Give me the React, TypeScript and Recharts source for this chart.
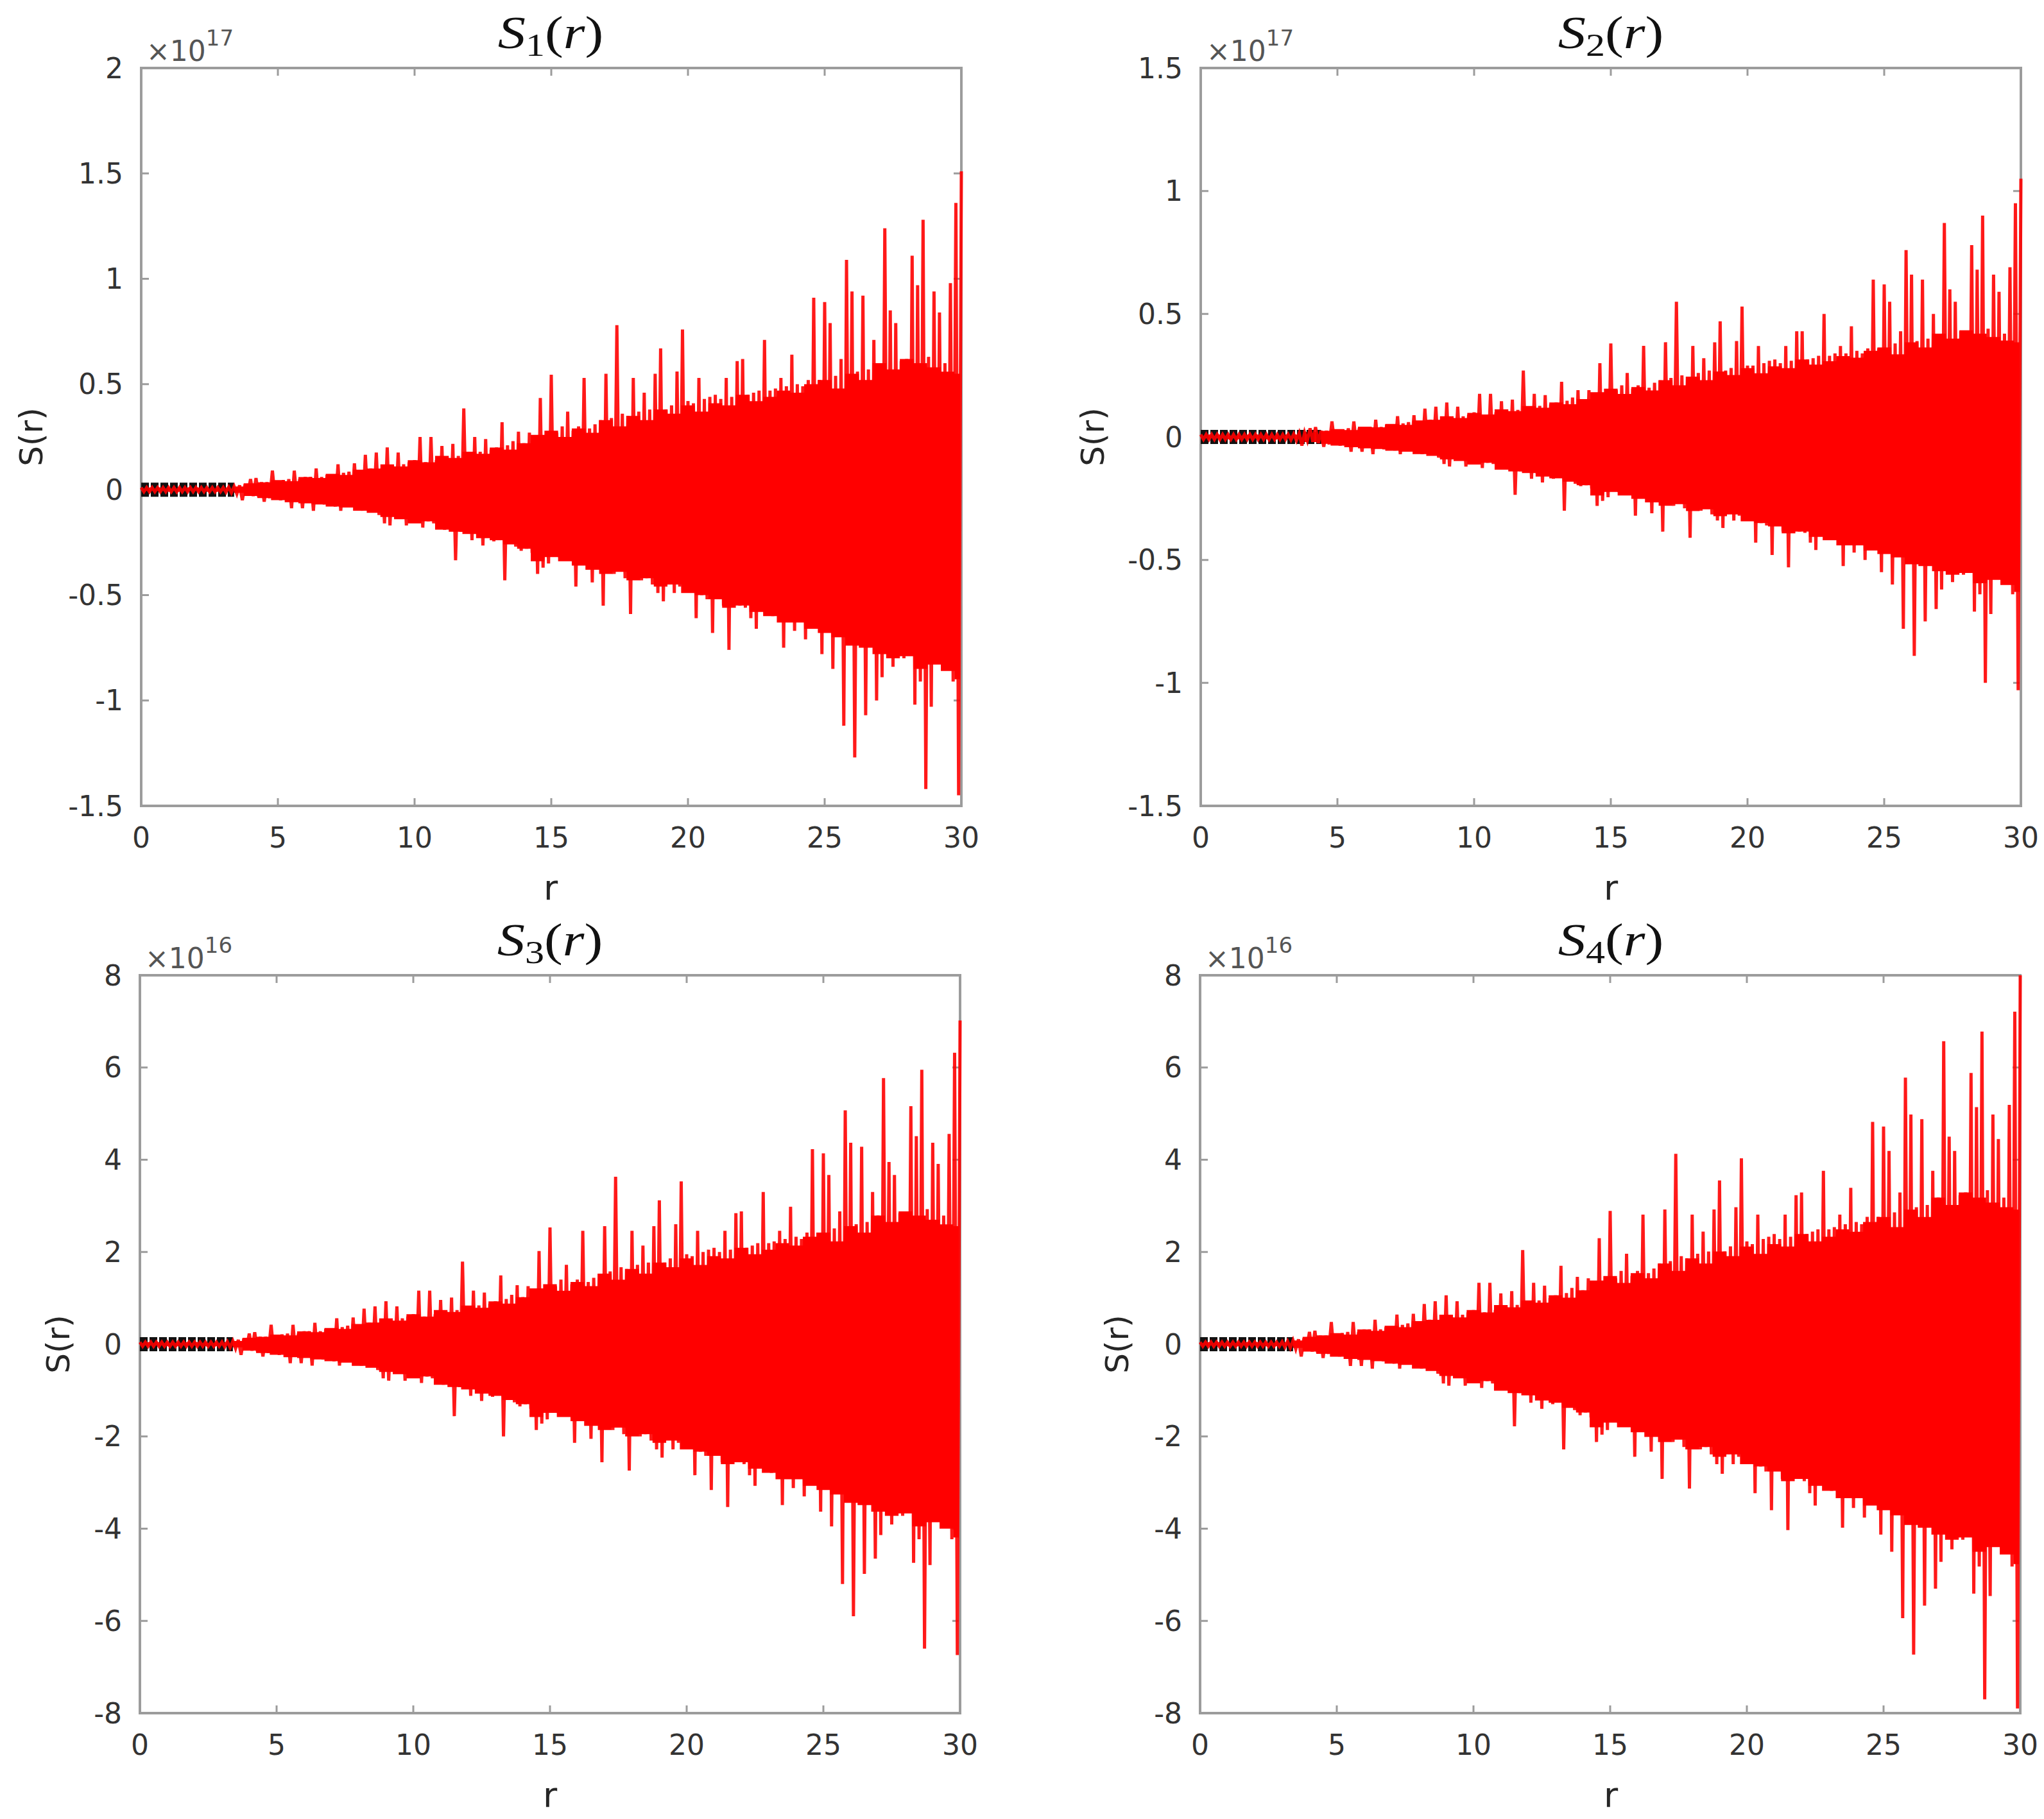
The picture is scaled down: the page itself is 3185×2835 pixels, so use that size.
import React from 'react';
import { ComposedChart, Line, Area, XAxis, YAxis, CartesianGrid, ReferenceArea } from 'recharts';

// r grid of the sampled signal (step 0.1)
const rGrid = [
  0,0.1,0.2,0.3,0.4,0.5,0.6,0.7,0.8,0.9,
  1,1.1,1.2,1.3,1.4,1.5,1.6,1.7,1.8,1.9,
  2,2.1,2.2,2.3,2.4,2.5,2.6,2.7,2.8,2.9,
  3,3.1,3.2,3.3,3.4,3.5,3.6,3.7,3.8,3.9,
  4,4.1,4.2,4.3,4.4,4.5,4.6,4.7,4.8,4.9,
  5,5.1,5.2,5.3,5.4,5.5,5.6,5.7,5.8,5.9,
  6,6.1,6.2,6.3,6.4,6.5,6.6,6.7,6.8,6.9,
  7,7.1,7.2,7.3,7.4,7.5,7.6,7.7,7.8,7.9,
  8,8.1,8.2,8.3,8.4,8.5,8.6,8.7,8.8,8.9,
  9,9.1,9.2,9.3,9.4,9.5,9.6,9.7,9.8,9.9,
  10,10.1,10.2,10.3,10.4,10.5,10.6,10.7,10.8,10.9,
  11,11.1,11.2,11.3,11.4,11.5,11.6,11.7,11.8,11.9,
  12,12.1,12.2,12.3,12.4,12.5,12.6,12.7,12.8,12.9,
  13,13.1,13.2,13.3,13.4,13.5,13.6,13.7,13.8,13.9,
  14,14.1,14.2,14.3,14.4,14.5,14.6,14.7,14.8,14.9,
  15,15.1,15.2,15.3,15.4,15.5,15.6,15.7,15.8,15.9,
  16,16.1,16.2,16.3,16.4,16.5,16.6,16.7,16.8,16.9,
  17,17.1,17.2,17.3,17.4,17.5,17.6,17.7,17.8,17.9,
  18,18.1,18.2,18.3,18.4,18.5,18.6,18.7,18.8,18.9,
  19,19.1,19.2,19.3,19.4,19.5,19.6,19.7,19.8,19.9,
  20,20.1,20.2,20.3,20.4,20.5,20.6,20.7,20.8,20.9,
  21,21.1,21.2,21.3,21.4,21.5,21.6,21.7,21.8,21.9,
  22,22.1,22.2,22.3,22.4,22.5,22.6,22.7,22.8,22.9,
  23,23.1,23.2,23.3,23.4,23.5,23.6,23.7,23.8,23.9,
  24,24.1,24.2,24.3,24.4,24.5,24.6,24.7,24.8,24.9,
  25,25.1,25.2,25.3,25.4,25.5,25.6,25.7,25.8,25.9,
  26,26.1,26.2,26.3,26.4,26.5,26.6,26.7,26.8,26.9,
  27,27.1,27.2,27.3,27.4,27.5,27.6,27.7,27.8,27.9,
  28,28.1,28.2,28.3,28.4,28.5,28.6,28.7,28.8,28.9,
  29,29.1,29.2,29.3,29.4,29.5,29.6,29.7,29.8,29.9,
  30,
];

// S1(r), units of 1e17
const s1 = [
  0.01,-0.01,0.01,-0.01,0.01,-0.01,0.01,-0.01,0.01,-0.01,
  0.01,-0.01,0.01,-0.01,0.01,-0.01,0.01,-0.01,0.01,-0.01,
  0.01,-0.01,0.01,-0.01,0.01,-0.01,0.01,-0.01,0.01,-0.01,
  0.01,-0.012,0.012,-0.015,0.015,-0.02,0.02,-0.05,0.025,-0.02,
  0.05,-0.03,0.055,-0.035,0.035,-0.057,0.035,-0.04,0.09,-0.045,
  0.04,-0.05,0.045,-0.045,0.05,-0.088,0.09,-0.05,0.05,-0.088,
  0.06,-0.06,0.06,-0.1,0.1,-0.065,0.06,-0.07,0.07,-0.06,
  0.065,-0.08,0.12,-0.1,0.08,-0.075,0.085,-0.08,0.125,-0.07,
  0.09,-0.1,0.165,-0.09,0.1,-0.09,0.176,-0.12,0.1,-0.16,
  0.2,-0.17,0.11,-0.12,0.176,-0.13,0.12,-0.17,0.13,-0.14,
  0.14,-0.15,0.25,-0.18,0.13,-0.15,0.25,-0.16,0.14,-0.17,
  0.207,-0.19,0.15,-0.18,0.217,-0.335,0.16,-0.2,0.385,-0.19,
  0.17,-0.24,0.25,-0.21,0.18,-0.265,0.24,-0.22,0.19,-0.245,
  0.2,-0.23,0.32,-0.43,0.21,-0.25,0.23,-0.27,0.275,-0.29,
  0.22,-0.28,0.27,-0.3,0.23,-0.4,0.435,-0.37,0.25,-0.35,
  0.545,-0.3,0.27,-0.32,0.3,-0.33,0.37,-0.3,0.28,-0.46,
  0.3,-0.34,0.53,-0.33,0.29,-0.44,0.31,-0.35,0.33,-0.55,
  0.55,-0.38,0.34,-0.4,0.78,-0.37,0.36,-0.42,0.35,-0.59,
  0.53,-0.41,0.37,-0.43,0.46,-0.42,0.38,-0.45,0.55,-0.49,
  0.67,-0.53,0.38,-0.44,0.4,-0.49,0.56,-0.46,0.76,-0.47,
  0.42,-0.48,0.41,-0.61,0.53,-0.5,0.43,-0.52,0.44,-0.68,
  0.45,-0.51,0.43,-0.55,0.53,-0.76,0.44,-0.53,0.61,-0.55,
  0.62,-0.56,0.45,-0.61,0.46,-0.66,0.47,-0.46,0.71,-0.58,
  0.47,-0.6,0.48,-0.59,0.53,-0.75,0.49,-0.6,0.64,-0.67,
  0.5,-0.62,0.49,-0.71,0.52,-0.63,0.91,-0.65,0.52,-0.78,
  0.89,-0.66,0.79,-0.85,0.54,-0.67,0.62,-1.12,1.09,-0.7,
  0.94,-1.27,0.56,-0.7,0.92,-1.07,0.57,-0.72,0.71,-1.0,
  0.6,-0.89,1.24,-0.74,0.85,-0.84,0.79,-0.75,0.61,-0.8,
  0.62,-0.76,1.11,-1.02,0.97,-0.91,1.28,-1.42,0.63,-1.03,
  0.94,-0.8,0.84,-0.76,0.6,-0.85,0.98,-0.91,1.36,-1.45,
  1.51,
];

// S2(r), units of 1e17
const s2 = [
  0.01,-0.01,0.01,-0.01,0.01,-0.01,0.01,-0.01,0.01,-0.01,
  0.01,-0.01,0.01,-0.01,0.01,-0.01,0.01,-0.01,0.01,-0.01,
  0.01,-0.01,0.01,-0.01,0.01,-0.01,0.01,-0.01,0.01,-0.01,
  0.01,-0.01,0.01,-0.012,0.012,-0.015,0.015,-0.035,0.018,-0.015,
  0.035,-0.02,0.04,-0.025,0.025,-0.04,0.025,-0.03,0.063,-0.03,
  0.03,-0.035,0.03,-0.03,0.035,-0.06,0.063,-0.035,0.035,-0.06,
  0.04,-0.04,0.04,-0.07,0.07,-0.045,0.04,-0.05,0.05,-0.04,
  0.045,-0.055,0.084,-0.07,0.055,-0.052,0.06,-0.055,0.088,-0.05,
  0.063,-0.07,0.115,-0.063,0.07,-0.063,0.123,-0.084,0.07,-0.11,
  0.14,-0.12,0.077,-0.084,0.123,-0.09,0.084,-0.12,0.09,-0.1,
  0.1,-0.105,0.175,-0.126,0.09,-0.105,0.175,-0.11,0.1,-0.12,
  0.145,-0.133,0.105,-0.126,0.152,-0.235,0.11,-0.14,0.27,-0.133,
  0.12,-0.17,0.175,-0.147,0.126,-0.185,0.17,-0.154,0.133,-0.17,
  0.14,-0.16,0.224,-0.3,0.147,-0.175,0.16,-0.19,0.19,-0.2,
  0.154,-0.196,0.19,-0.21,0.16,-0.28,0.3,-0.26,0.175,-0.245,
  0.38,-0.21,0.19,-0.224,0.21,-0.23,0.26,-0.21,0.196,-0.32,
  0.21,-0.24,0.37,-0.23,0.2,-0.31,0.22,-0.245,0.23,-0.385,
  0.385,-0.27,0.24,-0.28,0.55,-0.26,0.25,-0.29,0.245,-0.41,
  0.37,-0.29,0.26,-0.3,0.32,-0.29,0.27,-0.315,0.385,-0.34,
  0.47,-0.37,0.27,-0.31,0.28,-0.34,0.39,-0.32,0.53,-0.33,
  0.29,-0.34,0.29,-0.43,0.37,-0.35,0.3,-0.36,0.31,-0.48,
  0.315,-0.36,0.3,-0.385,0.37,-0.53,0.31,-0.37,0.43,-0.385,
  0.43,-0.39,0.315,-0.43,0.32,-0.46,0.33,-0.32,0.5,-0.41,
  0.33,-0.42,0.34,-0.41,0.37,-0.525,0.34,-0.42,0.45,-0.47,
  0.35,-0.43,0.34,-0.5,0.36,-0.44,0.64,-0.455,0.36,-0.55,
  0.62,-0.46,0.55,-0.6,0.38,-0.47,0.43,-0.78,0.76,-0.49,
  0.66,-0.89,0.39,-0.49,0.64,-0.75,0.4,-0.5,0.5,-0.7,
  0.42,-0.62,0.87,-0.52,0.6,-0.59,0.55,-0.525,0.43,-0.56,
  0.43,-0.53,0.78,-0.71,0.68,-0.64,0.9,-1.0,0.44,-0.72,
  0.66,-0.56,0.59,-0.53,0.42,-0.6,0.69,-0.64,0.95,-1.03,
  1.05,
];

// S3(r), units of 1e16
const s3 = [
  0.045,-0.045,0.045,-0.045,0.045,-0.045,0.045,-0.045,0.045,-0.045,
  0.045,-0.045,0.045,-0.045,0.045,-0.045,0.045,-0.045,0.045,-0.045,
  0.045,-0.045,0.045,-0.045,0.045,-0.045,0.045,-0.045,0.045,-0.045,
  0.047,-0.056,0.056,-0.07,0.07,-0.093,0.093,-0.23,0.116,-0.093,
  0.23,-0.14,0.26,-0.16,0.16,-0.265,0.16,-0.19,0.42,-0.21,
  0.19,-0.23,0.21,-0.21,0.23,-0.41,0.42,-0.23,0.23,-0.41,
  0.28,-0.28,0.28,-0.465,0.465,-0.3,0.28,-0.33,0.33,-0.28,
  0.3,-0.37,0.56,-0.465,0.37,-0.35,0.4,-0.37,0.58,-0.33,
  0.42,-0.465,0.77,-0.42,0.465,-0.42,0.82,-0.56,0.465,-0.74,
  0.93,-0.79,0.51,-0.56,0.82,-0.6,0.56,-0.79,0.6,-0.65,
  0.65,-0.7,1.16,-0.84,0.6,-0.7,1.16,-0.74,0.65,-0.79,
  0.96,-0.88,0.7,-0.84,1.01,-1.56,0.74,-0.93,1.79,-0.88,
  0.79,-1.12,1.16,-0.98,0.84,-1.23,1.12,-1.02,0.88,-1.14,
  0.93,-1.07,1.49,-2.0,0.98,-1.16,1.07,-1.26,1.28,-1.35,
  1.02,-1.3,1.26,-1.4,1.07,-1.86,2.02,-1.72,1.16,-1.63,
  2.53,-1.4,1.26,-1.49,1.4,-1.53,1.72,-1.4,1.3,-2.14,
  1.4,-1.58,2.46,-1.53,1.35,-2.05,1.44,-1.63,1.53,-2.56,
  2.56,-1.77,1.58,-1.86,3.63,-1.72,1.67,-1.95,1.63,-2.74,
  2.46,-1.91,1.72,-2.0,2.14,-1.95,1.77,-2.09,2.56,-2.28,
  3.12,-2.46,1.77,-2.05,1.86,-2.28,2.6,-2.14,3.53,-2.19,
  1.95,-2.23,1.91,-2.84,2.46,-2.33,2.0,-2.42,2.05,-3.16,
  2.09,-2.37,2.0,-2.56,2.46,-3.53,2.05,-2.46,2.84,-2.56,
  2.88,-2.6,2.09,-2.84,2.14,-3.07,2.19,-2.14,3.3,-2.7,
  2.19,-2.79,2.23,-2.74,2.46,-3.49,2.28,-2.79,2.98,-3.12,
  2.33,-2.88,2.28,-3.3,2.42,-2.93,4.23,-3.02,2.42,-3.63,
  4.14,-3.07,3.67,-3.95,2.51,-3.12,2.88,-5.2,5.07,-3.26,
  4.37,-5.9,2.6,-3.26,4.28,-4.98,2.65,-3.35,3.3,-4.65,
  2.79,-4.14,5.77,-3.44,3.95,-3.91,3.67,-3.49,2.84,-3.72,
  2.88,-3.53,5.16,-4.74,4.51,-4.23,5.95,-6.6,2.93,-4.79,
  4.37,-3.72,3.91,-3.53,2.79,-3.95,4.56,-4.23,6.32,-6.74,
  7.02,
];

// S4(r), units of 1e16
const s4 = [
  0.045,-0.045,0.045,-0.045,0.045,-0.045,0.045,-0.045,0.045,-0.045,
  0.045,-0.045,0.045,-0.045,0.045,-0.045,0.045,-0.045,0.045,-0.045,
  0.045,-0.045,0.045,-0.045,0.045,-0.045,0.045,-0.045,0.045,-0.045,
  0.053,-0.064,0.064,-0.08,0.08,-0.106,0.106,-0.265,0.13,-0.106,
  0.265,-0.16,0.29,-0.185,0.185,-0.3,0.185,-0.21,0.48,-0.24,
  0.21,-0.265,0.24,-0.24,0.265,-0.47,0.48,-0.265,0.265,-0.47,
  0.32,-0.32,0.32,-0.53,0.53,-0.34,0.32,-0.37,0.37,-0.32,
  0.34,-0.42,0.64,-0.53,0.42,-0.4,0.45,-0.42,0.66,-0.37,
  0.48,-0.53,0.87,-0.48,0.53,-0.48,0.93,-0.64,0.53,-0.85,
  1.06,-0.9,0.58,-0.64,0.93,-0.69,0.64,-0.9,0.69,-0.74,
  0.74,-0.8,1.33,-0.95,0.69,-0.8,1.33,-0.85,0.74,-0.9,
  1.1,-1.0,0.8,-0.95,1.15,-1.78,0.85,-1.06,2.04,-1.0,
  0.9,-1.27,1.33,-1.11,0.95,-1.4,1.27,-1.17,1.0,-1.3,
  1.06,-1.22,1.7,-2.28,1.11,-1.33,1.22,-1.43,1.46,-1.54,
  1.17,-1.48,1.43,-1.59,1.22,-2.12,2.3,-1.96,1.33,-1.86,
  2.89,-1.59,1.43,-1.7,1.59,-1.75,1.96,-1.59,1.48,-2.44,
  1.59,-1.8,2.81,-1.75,1.54,-2.33,1.64,-1.86,1.75,-2.92,
  2.92,-2.01,1.8,-2.12,4.13,-1.96,1.91,-2.23,1.86,-3.13,
  2.81,-2.17,1.96,-2.28,2.44,-2.23,2.01,-2.39,2.92,-2.6,
  3.55,-2.81,2.01,-2.33,2.12,-2.6,2.97,-2.44,4.03,-2.49,
  2.23,-2.54,2.17,-3.23,2.81,-2.65,2.28,-2.76,2.33,-3.6,
  2.39,-2.7,2.28,-2.92,2.81,-4.03,2.33,-2.81,3.23,-2.92,
  3.29,-2.97,2.39,-3.23,2.44,-3.5,2.49,-2.44,3.76,-3.07,
  2.49,-3.18,2.54,-3.13,2.81,-3.98,2.6,-3.18,3.39,-3.55,
  2.65,-3.29,2.6,-3.76,2.76,-3.34,4.82,-3.45,2.76,-4.13,
  4.72,-3.5,4.19,-4.5,2.86,-3.55,3.29,-5.94,5.78,-3.71,
  4.98,-6.73,2.97,-3.71,4.88,-5.67,3.02,-3.82,3.76,-5.3,
  3.18,-4.72,6.57,-3.92,4.5,-4.45,4.19,-3.98,3.23,-4.24,
  3.29,-4.03,5.88,-5.41,5.14,-4.82,6.78,-7.7,3.34,-5.46,
  4.98,-4.24,4.45,-4.03,3.18,-4.5,5.19,-4.82,7.21,-7.9,
  8.0,
];

// solid core (skyline) of the oscillation, sampled every 0.5 in r
const coreR = [
  0,0.5,1,1.5,2,2.5,3,3.5,4,4.5,5,5.5,6,6.5,7,7.5,8,8.5,9,9.5,
  10,10.5,11,11.5,12,12.5,13,13.5,14,14.5,15,15.5,16,16.5,17,17.5,18,18.5,19,19.5,
  20,20.5,21,21.5,22,22.5,23,23.5,24,24.5,25,25.5,26,26.5,27,27.5,28,28.5,29,29.5,30,
];
const coreHi1 = [
  0.01,0.01,0.01,0.01,0.01,0.01,0.01,
  0.015,0.03,0.035,0.045,0.04,0.06,0.055,0.075,0.07,0.095,0.1,0.12,0.11,
  0.14,0.13,0.16,0.15,0.18,0.17,0.2,0.19,0.22,0.26,0.28,0.25,0.29,0.27,0.33,0.3,0.35,0.33,0.38,0.36,
  0.4,0.37,0.41,0.4,0.45,0.42,0.44,0.47,0.46,0.5,0.52,0.48,0.55,0.52,0.6,0.57,0.62,0.6,0.58,0.56,0.55,
];
const coreLo1 = [
  -0.01,-0.01,-0.01,-0.01,-0.01,-0.01,-0.01,
  -0.015,-0.03,-0.04,-0.05,-0.06,-0.065,-0.07,-0.08,-0.085,-0.1,-0.11,-0.13,-0.14,
  -0.16,-0.15,-0.19,-0.2,-0.21,-0.23,-0.24,-0.26,-0.28,-0.34,-0.32,-0.34,-0.36,-0.38,-0.4,-0.39,-0.43,-0.42,-0.46,-0.45,
  -0.49,-0.5,-0.52,-0.56,-0.55,-0.58,-0.6,-0.63,-0.63,-0.66,-0.68,-0.7,-0.74,-0.75,-0.78,-0.8,-0.79,-0.85,-0.83,-0.86,-0.9,
];
const coreHi2 = [
  0.01,0.01,0.01,0.01,0.01,0.01,0.01,
  0.01,0.021,0.025,0.032,0.028,0.042,0.039,0.053,0.049,0.067,0.07,0.084,0.077,
  0.098,0.091,0.112,0.105,0.126,0.119,0.14,0.133,0.154,0.182,0.196,0.175,0.203,0.189,0.231,0.21,0.245,0.231,0.266,0.252,
  0.28,0.259,0.287,0.28,0.315,0.294,0.308,0.329,0.322,0.35,0.364,0.336,0.385,0.364,0.42,0.4,0.434,0.42,0.406,0.392,0.385,
];
const coreLo2 = [
  -0.01,-0.01,-0.01,-0.01,-0.01,-0.01,-0.01,
  -0.01,-0.021,-0.028,-0.035,-0.042,-0.046,-0.049,-0.056,-0.06,-0.07,-0.077,-0.091,-0.098,
  -0.112,-0.105,-0.133,-0.14,-0.147,-0.161,-0.168,-0.182,-0.196,-0.238,-0.224,-0.238,-0.252,-0.266,-0.28,-0.273,-0.301,-0.294,-0.322,-0.315,
  -0.343,-0.35,-0.364,-0.392,-0.385,-0.406,-0.42,-0.441,-0.441,-0.462,-0.476,-0.49,-0.518,-0.525,-0.546,-0.56,-0.553,-0.595,-0.581,-0.602,-0.63,
];
const coreHi3 = [
  0.045,0.045,0.045,0.045,0.045,0.045,0.045,
  0.07,0.14,0.16,0.21,0.19,0.28,0.26,0.35,0.33,0.44,0.47,0.56,0.51,
  0.65,0.6,0.74,0.7,0.84,0.79,0.93,0.88,1.02,1.21,1.3,1.16,1.35,1.26,1.53,1.4,1.63,1.53,1.77,1.67,
  1.86,1.72,1.91,1.86,2.09,1.95,2.05,2.19,2.14,2.33,2.42,2.23,2.56,2.42,2.79,2.65,2.88,2.79,2.7,2.6,2.56,
];
const coreLo3 = [
  -0.045,-0.045,-0.045,-0.045,-0.045,-0.045,-0.045,
  -0.07,-0.14,-0.19,-0.23,-0.28,-0.3,-0.33,-0.37,-0.4,-0.47,-0.51,-0.6,-0.65,
  -0.74,-0.7,-0.88,-0.93,-0.98,-1.07,-1.12,-1.21,-1.3,-1.58,-1.49,-1.58,-1.67,-1.77,-1.86,-1.81,-2.0,-1.95,-2.14,-2.09,
  -2.28,-2.33,-2.42,-2.6,-2.56,-2.7,-2.79,-2.93,-2.93,-3.07,-3.16,-3.26,-3.44,-3.49,-3.63,-3.72,-3.67,-3.95,-3.86,-4.0,-4.19,
];
const coreHi4 = [
  0.045,0.045,0.045,0.045,0.045,0.045,0.045,
  0.08,0.16,0.19,0.24,0.21,0.32,0.29,0.4,0.37,0.5,0.53,0.64,0.58,
  0.74,0.69,0.85,0.8,0.95,0.9,1.06,1.01,1.17,1.38,1.48,1.33,1.54,1.43,1.75,1.59,1.86,1.75,2.01,1.91,
  2.12,1.96,2.17,2.12,2.39,2.23,2.33,2.49,2.44,2.65,2.76,2.54,2.92,2.76,3.18,3.02,3.29,3.18,3.07,2.97,2.92,
];
const coreLo4 = [
  -0.045,-0.045,-0.045,-0.045,-0.045,-0.045,-0.045,
  -0.08,-0.16,-0.21,-0.27,-0.32,-0.34,-0.37,-0.42,-0.45,-0.53,-0.58,-0.69,-0.74,
  -0.85,-0.8,-1.01,-1.06,-1.11,-1.22,-1.27,-1.38,-1.48,-1.8,-1.7,-1.8,-1.91,-2.01,-2.12,-2.07,-2.28,-2.23,-2.44,-2.39,
  -2.6,-2.65,-2.76,-2.97,-2.92,-3.07,-3.18,-3.34,-3.34,-3.5,-3.6,-3.71,-3.92,-3.98,-4.13,-4.24,-4.19,-4.5,-4.4,-4.56,-4.77,
];

// black dashed reference line near the origin
const bandR = [0, 3.4];
const bandR2 = [0, 4.4];
const bandV = [0, 0];

// ticks
const xTicks = [0, 5, 10, 15, 20, 25, 30];
const yTicks1 = [-1.5, -1, -0.5, 0, 0.5, 1, 1.5, 2];
const yTicks2 = [-1.5, -1, -0.5, 0, 0.5, 1, 1.5];
const yTicks34 = [-8, -6, -4, -2, 0, 2, 4, 6, 8];

const PW = 1278;
const PH = 1150;
const ML = 200;
const MT = 100;
const CW = ML + PW + 40;
const CH = MT + PH + 90;
const AXIS = '#9c9c9c';
const TICKFONT = { fontSize: 44, fontFamily: 'DejaVu Sans', fill: '#333333' };

type PanelProps = {
  left: number;
  top: number;
  yDomain: [number, number];
  yTicks: number[];
  signal: number[];
  coreHi: number[];
  coreLo: number[];
  band: number[];
};

function Panel({ left, top, yDomain, yTicks, signal, coreHi, coreLo, band }: PanelProps) {
  const sigData = rGrid.map((r, i) => ({ r, v: signal[i] }));
  const coreData = coreR.map((r, i) => ({ r, range: [coreLo[i], coreHi[i]] }));
  const blackData = band.map((r, i) => ({ r, z: bandV[i] }));
  return (
    <div style={{ position: 'absolute', left: left - ML, top: top - MT, width: CW, height: CH }}>
      <ComposedChart width={CW} height={CH} margin={{ top: MT, right: 40, bottom: 10, left: 10 }}>
        <CartesianGrid
          horizontal={false}
          vertical
          stroke={AXIS}
          strokeWidth={3}
          strokeDasharray={`12 ${PH - 24} 12`}
        />
        <CartesianGrid
          vertical={false}
          horizontal
          stroke={AXIS}
          strokeWidth={3}
          strokeDasharray={`12 ${PW - 24} 12`}
        />
        <XAxis
          type="number"
          dataKey="r"
          domain={[0, 30]}
          ticks={xTicks}
          interval={0}
          axisLine={false}
          tickLine={false}
          tickSize={0}
          tickMargin={34}
          height={80}
          tick={TICKFONT}
        />
        <YAxis
          type="number"
          domain={yDomain}
          ticks={yTicks}
          interval={0}
          width={190}
          axisLine={false}
          tickLine={false}
          tickSize={0}
          tickMargin={28}
          tick={TICKFONT}
        />
        <Line
          data={blackData}
          dataKey="z"
          type="linear"
          stroke="#111111"
          strokeWidth={22}
          strokeDasharray="12 3"
          dot={false}
          activeDot={false}
          isAnimationActive={false}
        />
        <Area
          data={coreData}
          dataKey="range"
          type="step"
          fill="#ff0000"
          fillOpacity={1}
          stroke="none"
          dot={false}
          activeDot={false}
          isAnimationActive={false}
        />
        <Line
          data={sigData}
          dataKey="v"
          type="linear"
          stroke="#ff0000"
          strokeOpacity={0.9}
          strokeWidth={5}
          dot={false}
          activeDot={false}
          isAnimationActive={false}
        />
        <ReferenceArea
          x1={0}
          x2={30}
          y1={yDomain[0]}
          y2={yDomain[1]}
          fill="none"
          stroke={AXIS}
          strokeWidth={4}
        />
      </ComposedChart>
    </div>
  );
}

function Title({ cx, y, sub }: { cx: number; y: number; sub: string }) {
  return (
    <text
      transform={`translate(${cx},${y}) scale(1.2,1)`}
      textAnchor="middle"
      fontFamily="Liberation Serif"
      fontSize={72}
      fill="#111"
    >
      <tspan fontStyle="italic">S</tspan>
      <tspan fontSize={50} dy={12}>{sub}</tspan>
      <tspan dy={-12}>(</tspan>
      <tspan fontStyle="italic">r</tspan>
      <tspan>)</tspan>
    </text>
  );
}

function Exponent({ x, y, exp }: { x: number; y: number; exp: string }) {
  return (
    <text x={x} y={y} fontFamily="DejaVu Sans" fontSize={44} fill="#555">
      ×10
      <tspan fontSize={34} dy={-24}>{exp}</tspan>
    </text>
  );
}

function YLabel({ x, y }: { x: number; y: number }) {
  return (
    <text
      transform={`translate(${x},${y}) rotate(-90)`}
      textAnchor="middle"
      fontFamily="DejaVu Sans"
      fontSize={50}
      fill="#262626"
    >
      S(r)
    </text>
  );
}

function XLabel({ x, y }: { x: number; y: number }) {
  return (
    <text x={x} y={y} textAnchor="middle" fontFamily="DejaVu Sans" fontSize={54} fill="#262626">
      r
    </text>
  );
}

export default function App() {
  return (
    <div style={{ position: 'absolute', left: 0, top: 0, width: 3185, height: 2835, background: '#fff', overflow: 'hidden' }}>
      <Panel left={220} top={106} yDomain={[-1.5, 2]} yTicks={yTicks1} signal={s1} coreHi={coreHi1} coreLo={coreLo1} band={bandR} />
      <Panel left={1871} top={106} yDomain={[-1.5, 1.5]} yTicks={yTicks2} signal={s2} coreHi={coreHi2} coreLo={coreLo2} band={bandR2} />
      <Panel left={218} top={1520} yDomain={[-8, 8]} yTicks={yTicks34} signal={s3} coreHi={coreHi3} coreLo={coreLo3} band={bandR} />
      <Panel left={1870} top={1520} yDomain={[-8, 8]} yTicks={yTicks34} signal={s4} coreHi={coreHi4} coreLo={coreLo4} band={bandR} />
      <svg width={3185} height={2835} style={{ position: 'absolute', left: 0, top: 0, pointerEvents: 'none' }}>
        <Title cx={858} y={75} sub="1" />
        <Title cx={2510} y={75} sub="2" />
        <Title cx={857} y={1489} sub="3" />
        <Title cx={2510} y={1489} sub="4" />
        <Exponent x={228} y={95} exp="17" />
        <Exponent x={1880} y={95} exp="17" />
        <Exponent x={226} y={1509} exp="16" />
        <Exponent x={1878} y={1509} exp="16" />
        <YLabel x={66} y={681} />
        <YLabel x={1720} y={681} />
        <YLabel x={108} y={2095} />
        <YLabel x={1758} y={2095} />
        <XLabel x={858} y={1402} />
        <XLabel x={2510} y={1402} />
        <XLabel x={857} y={2816} />
        <XLabel x={2510} y={2816} />
      </svg>
    </div>
  );
}
